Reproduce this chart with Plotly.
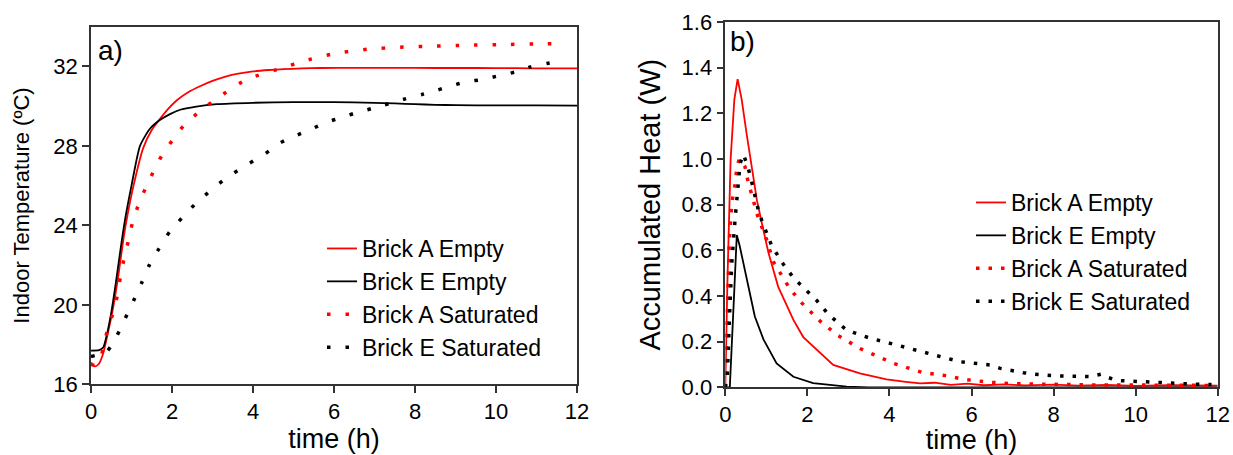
import plotly.graph_objects as go

# ---------------- data: panel a) indoor temperature ----------------
t_a_empty = [0, 0.1, 0.2, 0.3, 0.43, 0.55, 0.67, 0.8, 0.9, 1.05, 1.29, 1.5, 1.7, 1.9, 2.12, 2.4, 2.69, 3.0, 3.3, 3.6, 4.0, 4.4, 4.75, 5.2, 5.66, 6.5, 7.5, 8.5, 9.5, 10.5, 11.3, 12]
T_a_empty = [17.1, 16.9, 17.05, 17.55, 18.7, 19.9, 21.4, 23.3, 24.5, 26.0, 27.9, 28.8, 29.35, 29.85, 30.3, 30.7, 31.0, 31.27, 31.47, 31.62, 31.75, 31.82, 31.86, 31.9, 31.92, 31.93, 31.93, 31.92, 31.92, 31.91, 31.9, 31.9]

t_e_empty = [0, 0.2, 0.3, 0.38, 0.5, 0.62, 0.75, 0.85, 1.0, 1.21, 1.45, 1.7, 1.95, 2.2, 2.6, 3.1, 4.0, 5.0, 6.0, 7.0, 7.5, 8.0, 8.5, 9, 10, 11, 12]
T_e_empty = [17.7, 17.72, 17.85, 18.4, 19.6, 21.2, 23.1, 24.4, 26.0, 28.0, 28.85, 29.3, 29.6, 29.82, 29.98, 30.1, 30.17, 30.2, 30.2, 30.17, 30.14, 30.1, 30.07, 30.05, 30.04, 30.04, 30.03]

t_a_sat = [0, 0.1, 0.2, 0.3, 0.39, 0.5, 0.59, 0.67, 0.76, 0.92, 1.02, 1.2, 1.4, 1.6, 1.8, 2.0, 2.28, 2.69, 3.19, 3.85, 4.75, 5.25, 6.0, 6.81, 7.64, 8.46, 9.28, 10.1, 10.93, 11.7]
T_a_sat = [17.0, 16.95, 17.1, 17.8, 18.6, 19.3, 19.9, 20.7, 21.8, 23.2, 24.1, 25.2, 26.1, 26.95, 27.7, 28.25, 29.0, 29.75, 30.5, 31.35, 31.94, 32.27, 32.64, 32.86, 32.97, 33.02, 33.07, 33.1, 33.13, 33.15]

t_e_sat = [0, 0.2, 0.37, 0.5, 0.63, 0.84, 1.05, 1.25, 1.44, 1.64, 1.95, 2.28, 2.61, 2.98, 3.35, 3.89, 4.3, 4.67, 5.04, 5.41, 5.82, 6.23, 6.6, 6.97, 7.76, 8.17, 8.54, 8.91, 9.28, 9.69, 10.1, 10.5, 10.85, 11.26, 11.67]
T_e_sat = [17.4, 17.5, 17.6, 17.95, 18.4, 19.3, 20.2, 21.1, 22.0, 22.7, 23.7, 24.45, 25.15, 25.8, 26.4, 27.1, 27.6, 28.15, 28.5, 28.82, 29.19, 29.46, 29.7, 29.9, 30.37, 30.59, 30.8, 31.04, 31.23, 31.35, 31.55, 31.73, 31.97, 32.15, 32.3]

# ---------------- data: panel b) accumulated heat ----------------
t_qa_empty = [0, 0.05, 0.13, 0.22, 0.3, 0.4, 0.52, 0.65, 0.77, 0.89, 1.05, 1.29, 1.66, 1.9, 2.31, 2.63, 3.28, 3.93, 4.4, 4.75, 5.1, 5.5, 5.9, 6.3, 6.8, 7.3, 8.0, 8.6, 9.3, 10.0, 10.8, 11.5, 12.0]
Q_a_empty = [0, 0.45, 1.0, 1.26, 1.35, 1.26, 1.11, 0.96, 0.82, 0.72, 0.59, 0.44, 0.295, 0.22, 0.149, 0.098, 0.061, 0.035, 0.024, 0.017, 0.02, 0.011, 0.016, 0.009, 0.013, 0.008, 0.012, 0.007, 0.01, 0.006, 0.009, 0.006, 0.007]

t_qe_empty = [0, 0.11, 0.2, 0.28, 0.35, 0.52, 0.72, 0.93, 1.25, 1.66, 2.14, 2.96, 3.5, 12]
Q_e_empty = [0, 0, 0.35, 0.667, 0.62, 0.48, 0.31, 0.21, 0.105, 0.046, 0.018, 0.003, 0, 0]

t_qa_sat = [0, 0.05, 0.1, 0.16, 0.24, 0.28, 0.34, 0.48, 0.56, 0.66, 0.77, 1.01, 1.17, 1.58, 1.86, 2.31, 2.72, 3.28, 4.1, 4.8, 5.43, 5.8, 6.45, 7.0, 8.0, 9.0, 10.0, 11.0, 11.9]
Q_a_sat = [0, 0.35, 0.65, 0.81, 0.89, 0.96, 1.0, 0.966, 0.896, 0.835, 0.76, 0.645, 0.55, 0.43, 0.37, 0.29, 0.23, 0.17, 0.105, 0.065, 0.05, 0.035, 0.022, 0.016, 0.012, 0.01, 0.01, 0.009, 0.008]

t_qe_sat = [0, 0.05, 0.1, 0.16, 0.24, 0.28, 0.32, 0.36, 0.44, 0.55, 0.63, 0.7, 0.8, 0.89, 1.13, 1.41, 1.66, 2.23, 2.51, 2.96, 3.53, 4.18, 4.91, 5.07, 5.72, 6.45, 6.7, 7.26, 7.5, 8.08, 8.5, 8.89, 9.17, 9.3, 9.54, 10.1, 10.76, 11.4, 11.85]
Q_e_sat = [0, 0.05, 0.3, 0.55, 0.74, 0.82, 0.91, 0.98, 1.02, 0.966, 0.91, 0.85, 0.78, 0.73, 0.62, 0.54, 0.48, 0.38, 0.32, 0.25, 0.215, 0.185, 0.149, 0.141, 0.112, 0.098, 0.083, 0.064, 0.058, 0.05, 0.049, 0.047, 0.058, 0.045, 0.03, 0.025, 0.017, 0.014, 0.012]

names = ["Brick A Empty", "Brick E Empty", "Brick A Saturated", "Brick E Saturated"]
x_ticks = [0, 2, 4, 6, 8, 10, 12]
temp_ticks = [16, 20, 24, 28, 32]
heat_ticks = [0.0, 0.2, 0.4, 0.6, 0.8, 1.0, 1.2, 1.4, 1.6]

RED = "#ff0000"
BLACK = "#000000"
FONT = "Arial, Liberation Sans, sans-serif"

fig = go.Figure()

panel_a = [(t_a_empty, T_a_empty, RED, None), (t_e_empty, T_e_empty, BLACK, None),
           (t_a_sat, T_a_sat, RED, "dot"), (t_e_sat, T_e_sat, BLACK, "dot")]
for name, (x, y, c, d) in zip(names, panel_a):
    if d:
        line = dict(color=c, width=3.5, dash="3.5px,15px", shape="spline", smoothing=0.6)
    else:
        line = dict(color=c, width=1.8, shape="spline", smoothing=0.6)
    fig.add_trace(go.Scatter(x=x, y=y, mode="lines", name=name, line=line,
                             xaxis="x", yaxis="y", legend="legend"))

panel_b = [(t_qa_empty, Q_a_empty, RED, None), (t_qe_empty, Q_e_empty, BLACK, None),
           (t_qa_sat, Q_a_sat, RED, "dot"), (t_qe_sat, Q_e_sat, BLACK, "dot")]
for name, (x, y, c, d) in zip(names, panel_b):
    if d:
        line = dict(color=c, width=3.5, dash="3.5px,9px")
    else:
        line = dict(color=c, width=1.8)
    fig.add_trace(go.Scatter(x=x, y=y, mode="lines", name=name, line=line,
                             xaxis="x2", yaxis="y2", legend="legend2"))

W, H = 1233, 455
axis_common = dict(showline=True, linecolor="#333333", linewidth=1.5, mirror=True,
                   ticks="outside", ticklen=7, tickwidth=1.5, tickcolor="#333333",
                   showgrid=False, zeroline=False, automargin=False,
                   tickfont=dict(family=FONT, size=22, color="#000000"))

fig.update_layout(
    width=W, height=H,
    margin=dict(l=0, r=0, t=0, b=0),
    paper_bgcolor="white", plot_bgcolor="white",
    font=dict(family=FONT, color="#000000"),
    xaxis=dict(domain=[91 / W, 577 / W], range=[0, 12], tickvals=x_ticks, anchor="y",
               title=dict(text="time (h)", font=dict(size=27), standoff=2), **axis_common),
    yaxis=dict(domain=[1 - 384.3 / H, 1 - 26.7 / H], range=[16, 34], tickvals=temp_ticks, anchor="x",
               title=dict(text="Indoor Temperature (ºC)", font=dict(size=22), standoff=18), **axis_common),
    xaxis2=dict(domain=[725.3 / W, 1217.7 / W], range=[0, 12], tickvals=x_ticks, anchor="y2",
                title=dict(text="time (h)", font=dict(size=27), standoff=4), **axis_common),
    yaxis2=dict(domain=[1 - 387.3 / H, 1 - 22 / H], range=[0, 1.6], tickvals=heat_ticks,
                tickformat=".1f", anchor="x2",
                title=dict(text="Accumulated Heat (W)", font=dict(size=29), standoff=12),
                **axis_common),
    legend=dict(x=322 / W, y=1 - 227 / H, xanchor="left", yanchor="top",
                font=dict(family=FONT, size=23), bgcolor="rgba(0,0,0,0)", borderwidth=0),
    legend2=dict(x=971 / W, y=1 - 181 / H, xanchor="left", yanchor="top",
                 font=dict(family=FONT, size=23), bgcolor="rgba(0,0,0,0)", borderwidth=0),
    annotations=[
        dict(text="a)", xref="x domain", yref="y domain", x=0.01, y=0.982, xanchor="left",
             yanchor="top", showarrow=False, font=dict(family=FONT, size=28)),
        dict(text="b)", xref="x2 domain", yref="y2 domain", x=0.006, y=0.995, xanchor="left",
             yanchor="top", showarrow=False, font=dict(family=FONT, size=28)),
    ],
)

fig.write_html("out.html", config={"displayModeBar": False},
               post_script="document.body.style.margin='0';document.body.style.overflow='hidden';")
